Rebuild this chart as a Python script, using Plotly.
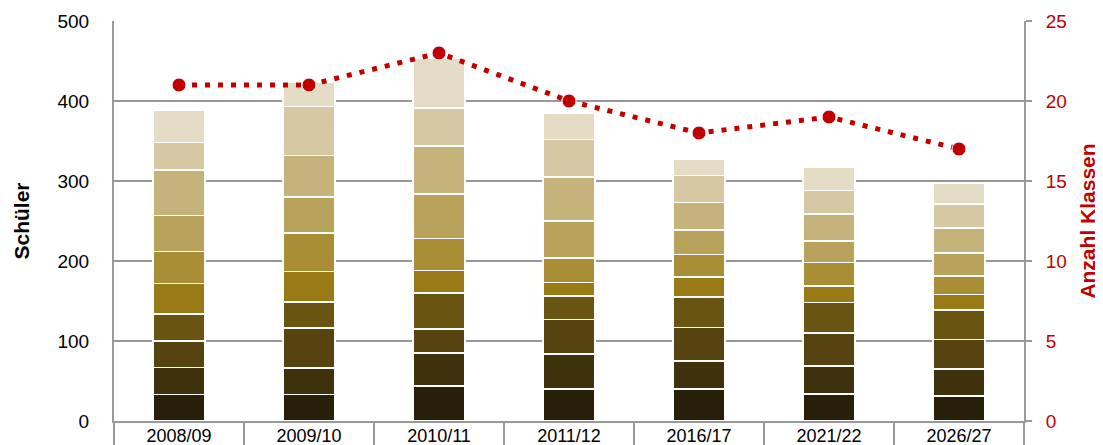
"""
Schüler je Jahrgang (gestapelt) und Anzahl Klassen
"""
import plotly.graph_objects as go

years = ["2008/09", "2009/10", "2010/11", "2011/12", "2016/17", "2021/22", "2026/27"]

# Schüler je Stufe, von unten (dunkel) nach oben (hell)
stufe_1 = [33, 33, 44, 40, 40, 34, 31]
stufe_2 = [34, 33, 41, 44, 35, 35, 34]
stufe_3 = [33, 50, 30, 43, 42, 41, 37]
stufe_4 = [34, 33, 45, 29, 38, 38, 37]
stufe_5 = [38, 38, 28, 17, 25, 21, 19]
stufe_6 = [40, 48, 40, 31, 28, 29, 23]
stufe_7 = [45, 45, 56, 46, 31, 27, 29]
stufe_8 = [57, 52, 60, 55, 34, 34, 31]
stufe_9 = [34, 61, 47, 47, 34, 29, 30]
stufe_10 = [40, 31, 62, 33, 20, 29, 26]

klassen = [21, 21, 23, 20, 18, 19, 17]

stufen = [stufe_1, stufe_2, stufe_3, stufe_4, stufe_5,
          stufe_6, stufe_7, stufe_8, stufe_9, stufe_10]
colors = ["#281f09", "#3f310c", "#56430f", "#6a5412", "#9a7a16",
          "#a98e36", "#b8a25c", "#c6b27b", "#d6c8a2", "#e4dcc4"]

fig = go.Figure()

for i, (vals, col) in enumerate(zip(stufen, colors)):
    fig.add_trace(
        go.Bar(
            x=years,
            y=vals,
            name=f"Stufe {i + 1}",
            marker=dict(color=col, line=dict(color="white", width=1.5)),
            width=0.4,
        )
    )

fig.add_trace(
    go.Scatter(
        x=years,
        y=klassen,
        yaxis="y2",
        mode="lines+markers",
        name="Anzahl Klassen",
        line=dict(color="#c00000", width=5, dash="5px,8px"),
        marker=dict(color="#c00000", size=14, line=dict(color="white", width=1)),
    )
)

fig.update_layout(
    width=1103,
    height=445,
    barmode="stack",
    showlegend=False,
    plot_bgcolor="white",
    paper_bgcolor="white",
    font=dict(family="Liberation Sans, Arial, sans-serif", color="black"),
    margin=dict(l=106, r=87, t=13, b=32),
    xaxis=dict(
        type="category",
        automargin=False,
        showline=True,
        linecolor="#999999",
        linewidth=2,
        ticks="outside",
        tickson="boundaries",
        ticklen=26,
        tickcolor="#999999",
        tickwidth=1.5,
        tickfont=dict(size=18, color="black"),
        ticklabelstandoff=-3,
        showgrid=False,
    ),
    yaxis=dict(
        range=[0, 500],
        dtick=100,
        automargin=False,
        showline=True,
        linecolor="#999999",
        linewidth=2,
        gridcolor="#999999",
        gridwidth=1.5,
        tickfont=dict(size=19, color="black"),
        ticklabelstandoff=19,
        zeroline=False,
        title=dict(text="<b>Schüler</b>", font=dict(size=21), standoff=22),
    ),
    yaxis2=dict(
        range=[0, 25],
        dtick=5,
        overlaying="y",
        side="right",
        automargin=False,
        showline=True,
        linecolor="#999999",
        linewidth=2,
        ticks="outside",
        ticklen=6,
        tickcolor="#999999",
        tickwidth=1.5,
        ticklabelstandoff=10,
        showgrid=False,
        zeroline=False,
        tickfont=dict(size=19, color="#c00000"),
        title=dict(text="<b>Anzahl Klassen</b>", font=dict(size=21, color="#c00000"), standoff=14),
    ),
)

fig.write_html("out.html")
